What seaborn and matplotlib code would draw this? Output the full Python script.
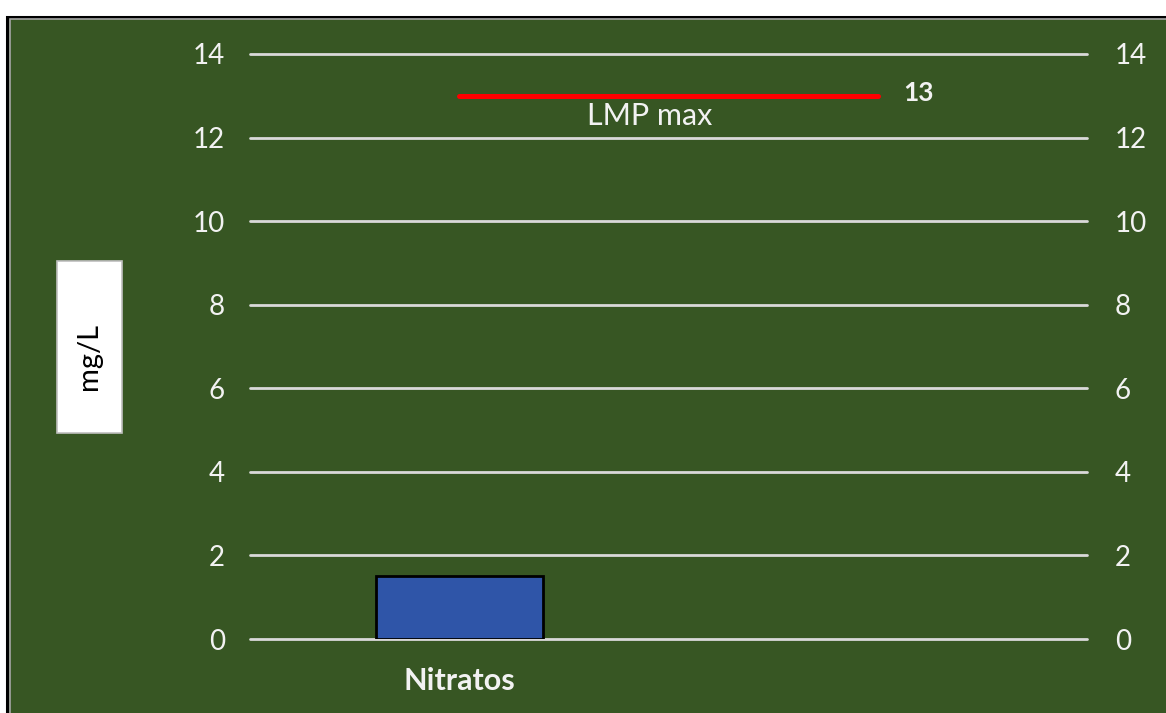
import numpy as np
import matplotlib
matplotlib.use("Agg")
import matplotlib.pyplot as plt
from matplotlib.patches import Rectangle
import seaborn as sns

# data
categories = ["Nitratos", ""]
nitratos = [1.5, np.nan]
lmp_max = [13, 13]
y_ticks = [0, 2, 4, 6, 8, 10, 12, 14]

green = "#375623"
bar_blue = "#2F55A8"
grid_col = "#D9D9D9"
txt_col = "#F2F2F2"

sns.set_style("white")
plt.rcParams["font.family"] = ["Lato", "DejaVu Sans"]

fig = plt.figure(figsize=(11.66, 7.13), dpi=100)
fig.patch.set_facecolor("white")

# outer frame of the chart area (behind axes)
fig.patches.append(Rectangle((7 / 1166, -0.05), 1.1, 1 - 17 / 713 + 0.05,
                             transform=fig.transFigure, facecolor=green,
                             edgecolor="black", linewidth=2.2, zorder=-2))
fig.patches.append(Rectangle((9.5 / 1166, -0.05), 1.1, 1 - 19.5 / 713 + 0.05,
                             transform=fig.transFigure, facecolor="none",
                             edgecolor="#A6A6A6", linewidth=1.2, zorder=-1))

ax = fig.add_axes([250 / 1166, 1 - 639 / 713, 837 / 1166, 585 / 713])
ax.set_facecolor("none")

sns.barplot(x=categories, y=nitratos, ax=ax, color=bar_blue, width=0.4,
            edgecolor="black", linewidth=2, saturation=1, zorder=3)

x_pos = np.arange(len(categories))
sns.lineplot(x=x_pos, y=lmp_max, ax=ax, color="#FF0000", linewidth=3.6,
             solid_capstyle="round", zorder=4)
ax.text(x_pos[-1] + 0.06, lmp_max[-1] + 0.07, f"{lmp_max[-1]}", color=txt_col,
        fontsize=19, fontweight="bold", va="center", ha="left")
ax.text(0.455, lmp_max[0] - 0.15, "LMP max", color=txt_col, fontsize=22,
        ha="center", va="top")

ax.set_xlim(-0.5, 1.5)
ax.set_ylim(0, 14)
ax.set_yticks(y_ticks)
ax.yaxis.grid(True, color=grid_col, linewidth=2, zorder=1)
for gl in ax.get_ygridlines():
    gl.set_clip_on(False)
ax.set_axisbelow(True)
for s in ax.spines.values():
    s.set_visible(False)
ax.tick_params(axis="y", length=0, pad=18, labelcolor=txt_col, labelsize=20)
ax.tick_params(axis="x", length=0, pad=20, labelcolor=txt_col, labelsize=22)
for lbl in ax.get_xticklabels():
    lbl.set_fontweight("bold")
ax.set_xlabel("")

ax2 = ax.twinx()
ax2.set_ylim(0, 14)
ax2.set_yticks(y_ticks)
for s in ax2.spines.values():
    s.set_visible(False)
ax2.tick_params(axis="y", length=0, pad=20, labelcolor=txt_col, labelsize=20)

# y-axis title in a white box
fig.patches.append(Rectangle((57 / 1166, 1 - 433 / 713), 65 / 1166, 172 / 713,
                             transform=fig.transFigure, facecolor="white",
                             edgecolor="#BFBFBF", linewidth=1.2))
fig.text(89.5 / 1166, 1 - 356 / 713, "mg/L", rotation=90, ha="center",
         va="center", fontsize=21, color="black")

fig.savefig("out.png", dpi=100, facecolor="white")
